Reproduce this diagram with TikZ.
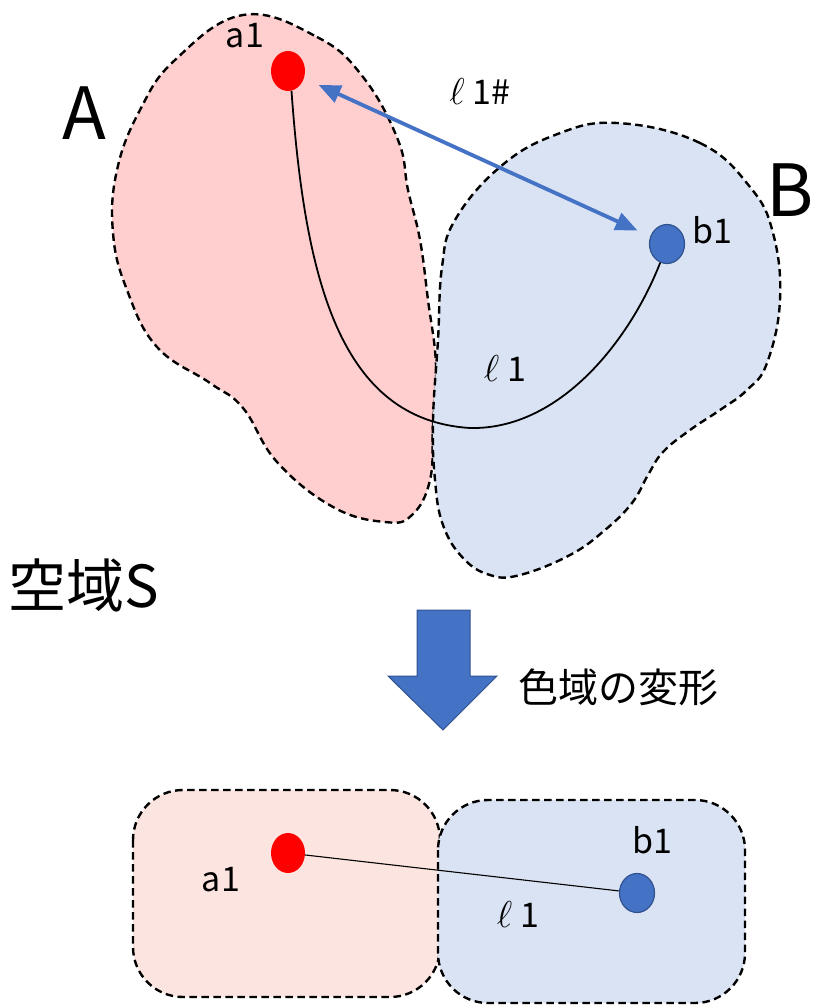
\documentclass[tikz,border=0pt]{standalone}
\usepackage{fontspec}
\setmainfont{Noto Sans CJK JP}
\usetikzlibrary{arrows.meta,shapes.geometric}
\definecolor{pinkA}{RGB}{255,207,207}
\definecolor{pinkC}{RGB}{252,228,224}
\definecolor{blueB}{RGB}{218,227,243}
\definecolor{accent}{RGB}{68,114,196}
\definecolor{accentdark}{RGB}{47,82,143}
\definecolor{dotred}{RGB}{255,0,0}
\newcommand{\scriptl}{\resizebox{!}{26pt}{$\ell$}}
\begin{document}
\begin{tikzpicture}[x=1pt,y=-1pt,
  region/.style={draw=black, line width=2.4pt, dash pattern=on 7.5pt off 4.5pt},
  reddot/.style={ellipse, fill=dotred, minimum width=34pt, minimum height=40pt, inner sep=0},
  bluedot/.style={ellipse, fill=accent, draw=accentdark, line width=1.2pt, minimum width=35pt, minimum height=39pt, inner sep=0},
  lbl/.style={inner sep=0, font=\fontsize{34}{40}\selectfont},
  big/.style={inner sep=0, font=\fontsize{72}{80}\selectfont},
  path/.style={black, line width=1.8pt}]
\useasboundingbox (0,0) rectangle (814,1008);
% region A
\draw[region, fill=pinkA] plot[smooth cycle, tension=0.7] coordinates {
 (243,15) (317,37) (363,77) (398,140) (408,190) (420,240) (428,300) (436,365)
 (433,425) (430,480) (412,515) (385,522) (333,507) (277,462) (243,408) (210,383)
 (157,347) (127,290) (113,233) (117,170) (140,110) (175,60)};
% region B
\draw[region, fill=blueB] plot[smooth cycle, tension=0.7] coordinates {
 (617,123) (700,143) (750,187) (773,233) (780,300) (767,363) (747,390) (720,410)
 (690,430) (663,452) (648,475) (632,503) (605,530) (570,555) (520,575) (490,575)
 (463,558) (443,525) (435,480) (433,420) (438,340) (442,267) (455,220) (500,167) (555,135)};
% points
\node[reddot] (a1) at (288,71) {};
\node[bluedot] (b1) at (667,244) {};
% path l1
\draw[path] (a1.-80) .. controls (305,280) and (340,420) .. (470,428)
  .. controls (560,430) and (630,340) .. (b1.-110);
% l1# arrow
\draw[accent, line width=3.8pt, {Triangle[length=22pt,width=18pt]}-{Triangle[length=22pt,width=18pt]},
  shorten <=16pt, shorten >=14pt] (a1) -- (b1);
% labels top
\node[big] (A) at (84,113) {A};
\node[big] (B) at (790,190) {B};
\node[lbl] (la1) at (245,36) {a1};
\node[lbl] (lb1) at (712,230) {b1};
\node[lbl] (ll1s) at (480,92) {\scriptl\hspace{8pt}1\#};
\node[lbl] (ll1) at (505,368) {\scriptl\hspace{8pt}1};
\node[inner sep=0, anchor=west, font=\fontsize{58}{64}\selectfont] (S) at (8,585) {空域S};
% big arrow
\draw[fill=accent, draw=accentdark, line width=1pt]
 (417,610) -- (470,610) -- (470,676) -- (497,676) -- (443,730) -- (388,676) -- (417,676) -- cycle;
\node[inner sep=0, font=\fontsize{40}{46}\selectfont] (deform) at (618,687) {色域の変形};
% bottom regions
\draw[region, fill=pinkC, rounded corners=50pt] (133,790) rectangle (440,997);
\draw[region, fill=blueB, rounded corners=50pt] (438,800) rectangle (745,1003);
\node[reddot] (a2) at (288,853) {};
\node[bluedot] (b2) at (637,893) {};
\draw[black, line width=1.1pt] (a2) -- (b2);
\node[lbl] (la2) at (221,880) {a1};
\node[lbl] (lb2) at (652,840) {b1};
\node[lbl] (ll2) at (518,914) {\scriptl\hspace{8pt}1};
\end{tikzpicture}
\end{document}
